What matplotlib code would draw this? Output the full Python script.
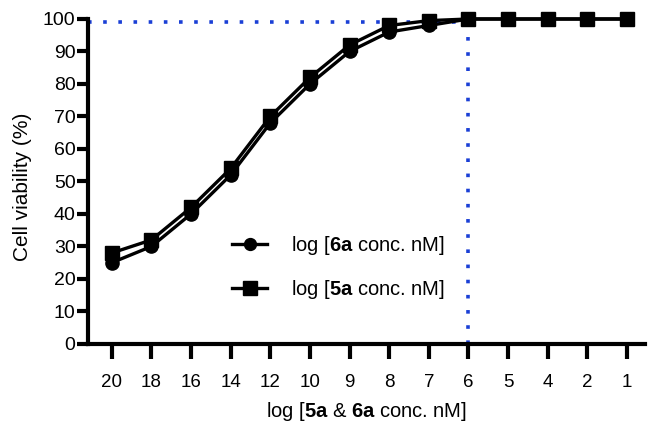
import matplotlib.pyplot as plt
import numpy as np

plt.rcParams['font.family'] = ['Liberation Sans', 'DejaVu Sans']
plt.rcParams['mathtext.fontset'] = 'custom'
plt.rcParams['mathtext.rm'] = 'Liberation Sans'
plt.rcParams['mathtext.bf'] = 'Liberation Sans:bold'

# tick labels along x (categorical concentration steps)
conc_labels = ['20', '18', '16', '14', '12', '10', '9', '8', '7', '6', '5', '4', '2', '1']
viab_6a = [25, 30, 40, 52, 68, 80, 90, 96, 98, 100, 100, 100, 100, 100]
viab_5a = [28, 32, 42, 54, 70, 82, 92, 98, 99.5, 100, 100, 100, 100, 100]

# reference lines (threshold viability, category index)
ref_level = 99
ref_idx = 9

x = np.arange(len(conc_labels))

fig = plt.figure(figsize=(6.49, 4.22), dpi=100)
ax = fig.add_axes([0.1356, 0.185, 0.858, 0.77])

ax.plot([-0.6, ref_idx], [ref_level, ref_level], color='#1a3fd6', linestyle=(0, (1, 3.2)),
        linewidth=2.6, zorder=1, clip_on=False)
ax.plot([ref_idx, ref_idx], [0, ref_level], color='#1a3fd6', linestyle=(0, (1, 3.2)),
        linewidth=2.6, zorder=1, clip_on=False)

ax.plot(x, viab_6a, color='black', linewidth=2.4, marker='o', markersize=9.5,
        label=r'log [$\mathbf{6a}$ conc. nM]', clip_on=False, zorder=3)
ax.plot(x, viab_5a, color='black', linewidth=2.4, marker='s', markersize=10.5,
        label=r'log [$\mathbf{5a}$ conc. nM]', clip_on=False, zorder=3)

ax.set_xlim(-0.6, len(conc_labels) - 0.55)
ax.set_ylim(0, 100)
ax.set_xticks(x)
ax.set_xticklabels(conc_labels, fontsize=13.5)
ax.set_yticks(np.arange(0, 101, 10))
ax.tick_params(axis='y', labelsize=14, width=3, length=8, pad=1)
ax.tick_params(axis='x', width=3, length=11, pad=11)

for s in ['top', 'right']:
    ax.spines[s].set_visible(False)
for s in ['left', 'bottom']:
    ax.spines[s].set_linewidth(3)

ax.set_ylabel('Cell viability (%)', fontsize=15)
ax.yaxis.set_label_coords(-0.1, 0.485)
ax.set_xlabel(r'log [$\mathbf{5a}$ & $\mathbf{6a}$ conc. nM]', fontsize=14.5, labelpad=6)

ax.legend(loc='center left', bbox_to_anchor=(0.226, 0.235), frameon=False, fontsize=14.5,
          handlelength=1.75, handletextpad=1.2, labelspacing=1.0, markerscale=0.9)

fig.savefig('out.png', dpi=100)
